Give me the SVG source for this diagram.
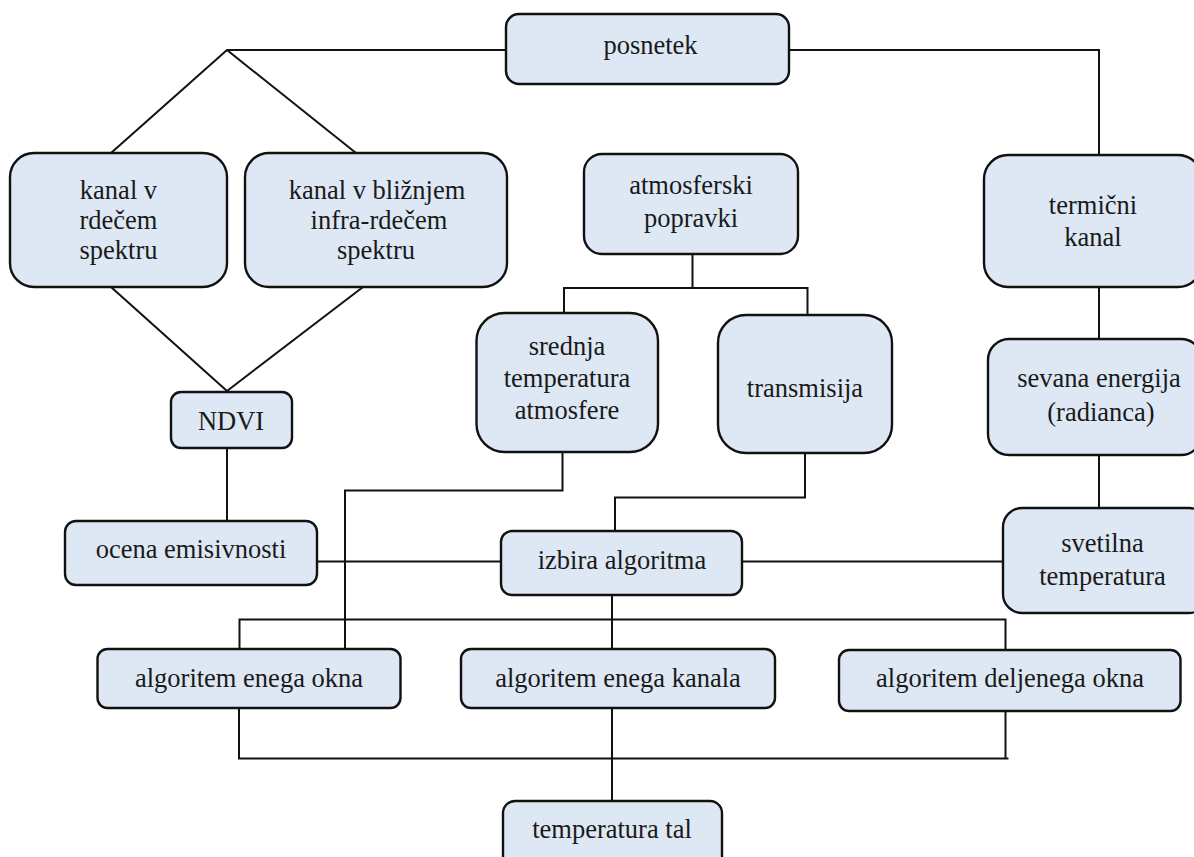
<svg xmlns="http://www.w3.org/2000/svg" width="1194" height="857" viewBox="0 0 1194 857">
<style>
.box{fill:#dde8f4;stroke:#111;stroke-width:2.4}
.ln{fill:none;stroke:#111;stroke-width:2}
.t{font-size:26.5px;fill:#1a1a1a;text-anchor:middle}
</style>
<rect width="1194" height="857" fill="#fff"/>
<g id="connectors">
<polyline class="ln" points="506,50 227,50 111,153"/>
<line class="ln" x1="227" y1="50" x2="356" y2="153"/>
<line class="ln" x1="111" y1="287" x2="227" y2="391"/>
<line class="ln" x1="363" y1="287" x2="227" y2="391"/>
<polyline class="ln" points="789,50 1099,50 1099,155"/>
<line class="ln" x1="1099" y1="287" x2="1099" y2="339"/>
<line class="ln" x1="1099" y1="455" x2="1099" y2="508"/>
<line class="ln" x1="692.5" y1="254" x2="692.5" y2="288"/>
<polyline class="ln" points="564,313 564,288 807.5,288 807.5,315"/>
<line class="ln" x1="227" y1="448" x2="227" y2="521"/>
<line class="ln" x1="317" y1="561.5" x2="501" y2="561.5"/>
<line class="ln" x1="742" y1="561.5" x2="1003" y2="561.5"/>
<polyline class="ln" points="562.5,452 562.5,490.5 345,490.5 345,649"/>
<polyline class="ln" points="805,453 805,497.5 615,497.5 615,531"/>
<line class="ln" x1="612" y1="595" x2="612" y2="649"/>
<polyline class="ln" points="239.5,649 239.5,619.5 1005.5,619.5 1005.5,650"/>
<polyline class="ln" points="239,708 239,758.5 1008.5,758.5"/>
<line class="ln" x1="1005.5" y1="711" x2="1005.5" y2="758.5"/>
<line class="ln" x1="612" y1="708" x2="612" y2="801"/>
</g>
<g class="t" font-family="Liberation Serif, Times New Roman, serif">
<g id="posnetek"><rect class="box" x="506" y="14" width="283" height="70" rx="13"/><text x="650.5" y="54">posnetek</text></g>
<g id="kanal-rdece"><rect class="box" x="10" y="153" width="217" height="134" rx="24"/><text x="118.5" y="199">kanal v</text><text x="118.5" y="229">rdečem</text><text x="118.5" y="259">spektru</text></g>
<g id="kanal-nir"><rect class="box" x="245" y="153" width="262" height="134" rx="24"/><text x="377" y="199">kanal v bližnjem</text><text x="379" y="229">infra-rdečem</text><text x="376" y="259">spektru</text></g>
<g id="atmosferski"><rect class="box" x="584" y="154" width="214" height="100" rx="18"/><text x="691" y="194">atmosferski</text><text x="691" y="227">popravki</text></g>
<g id="termicni"><rect class="box" x="984" y="155" width="218" height="132" rx="24"/><text x="1093" y="214">termični</text><text x="1093" y="246">kanal</text></g>
<g id="srednja"><rect class="box" x="476.5" y="313" width="181.5" height="139" rx="28"/><text x="567" y="355">srednja</text><text x="567" y="387">temperatura</text><text x="567" y="419">atmosfere</text></g>
<g id="transmisija"><rect class="box" x="718" y="315" width="174" height="138" rx="28"/><text x="805" y="397">transmisija</text></g>
<g id="sevana"><rect class="box" x="988" y="339" width="214" height="116" rx="21"/><text x="1099" y="387">sevana energija</text><text x="1101" y="421">(radianca)</text></g>
<g id="ndvi"><rect class="box" x="171" y="392" width="121" height="56" rx="10"/><text x="231" y="430">NDVI</text></g>
<g id="ocena"><rect class="box" x="65" y="521" width="252" height="64" rx="11"/><text x="191" y="558">ocena emisivnosti</text></g>
<g id="izbira"><rect class="box" x="501" y="531" width="241" height="64" rx="11"/><text x="622" y="569">izbira algoritma</text></g>
<g id="svetilna"><rect class="box" x="1003" y="508" width="205" height="105" rx="19"/><text x="1102.5" y="552">svetilna</text><text x="1102.5" y="585">temperatura</text></g>
<g id="enega-okna"><rect class="box" x="97.5" y="649" width="303" height="59" rx="10"/><text x="249" y="687">algoritem enega okna</text></g>
<g id="enega-kanala"><rect class="box" x="461" y="649" width="314" height="59" rx="10"/><text x="618" y="687">algoritem enega kanala</text></g>
<g id="deljenega"><rect class="box" x="839" y="650" width="341.5" height="61" rx="10"/><text x="1010" y="687">algoritem deljenega okna</text></g>
<g id="temperatura-tal"><rect class="box" x="503" y="801" width="219" height="70" rx="12"/><text x="612" y="838">temperatura tal</text></g>
</g>
</svg>
